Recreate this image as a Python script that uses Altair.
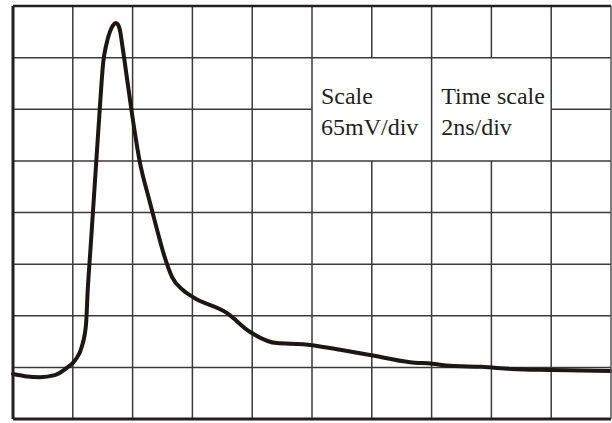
import altair as alt
import pandas as pd

# Signal trace (x in time divisions, y in voltage divisions)
trace_x = [0.00, 0.20, 0.45, 0.70, 0.90, 1.04, 1.15, 1.22, 1.25, 1.30, 1.35, 1.40, 1.45,
           1.51, 1.56, 1.62, 1.67, 1.72, 1.76, 1.79, 1.82, 1.86, 1.98, 2.12, 2.27, 2.41, 2.53,
           2.66, 2.84, 3.01, 3.58, 3.96, 4.41, 4.85, 5.47, 5.97, 6.64, 7.01, 7.31, 7.84,
           8.34, 9.01, 10.0]
trace_y = [0.87, 0.83, 0.81, 0.85, 0.99, 1.14, 1.40, 1.82, 2.50, 3.37, 4.24, 5.12, 5.99,
           6.92, 7.25, 7.50, 7.62, 7.67, 7.63, 7.52, 7.30, 6.98, 5.99, 4.98, 4.28, 3.66, 3.16,
           2.75, 2.50, 2.36, 2.05, 1.69, 1.47, 1.45, 1.34, 1.24, 1.10, 1.07, 1.03, 1.01,
           0.97, 0.95, 0.93]

# Grid segments (division units)
vgrid_x = [1, 2, 3, 4, 5, 6, 6, 7, 8, 8, 9]
vgrid_y1 = [0, 0, 0, 0, 0, 0, 7, 0, 0, 7, 0]
vgrid_y2 = [8, 8, 8, 8, 8, 5, 8, 8, 5, 8, 8]
hgrid_y = [1, 2, 3, 4, 5, 6, 6, 7]
hgrid_x1 = [0, 0, 0, 0, 0, 0, 9, 0]
hgrid_x2 = [10, 10, 10, 10, 10, 5, 10, 10]

# Annotation labels
label_text = ["Scale", "65mV/div", "Time scale", "2ns/div"]
label_x = [5.15, 5.15, 7.16, 7.16]
label_y = [6.10, 5.50, 6.10, 5.50]

xs = alt.Scale(domain=[0, 10], nice=False, zero=False)
ys = alt.Scale(domain=[0, 8], nice=False, zero=False)

trace = pd.DataFrame({"x": trace_x, "y": trace_y, "o": range(len(trace_x))})
vg = pd.DataFrame({"x": vgrid_x, "y": vgrid_y1, "y2": vgrid_y2})
hg = pd.DataFrame({"y": hgrid_y, "x": hgrid_x1, "x2": hgrid_x2})
labels = pd.DataFrame({"t": label_text, "x": label_x, "y": label_y})

grid_color = "#3a3a3a"

vlines = alt.Chart(vg).mark_rule(color=grid_color, strokeWidth=1.5).encode(
    x=alt.X("x:Q", scale=xs, axis=None),
    y=alt.Y("y:Q", scale=ys, axis=None),
    y2="y2:Q",
)
hlines = alt.Chart(hg).mark_rule(color=grid_color, strokeWidth=1.5).encode(
    y=alt.Y("y:Q", scale=ys, axis=None),
    x=alt.X("x:Q", scale=xs, axis=None),
    x2="x2:Q",
)

frame_left = alt.Chart(pd.DataFrame({"x": [0]})).mark_rule(color="#231f20", strokeWidth=3).encode(
    x=alt.X("x:Q", scale=xs, axis=None))
frame_bottom = alt.Chart(pd.DataFrame({"y": [0]})).mark_rule(color="#231f20", strokeWidth=3).encode(
    y=alt.Y("y:Q", scale=ys, axis=None))
frame_top = alt.Chart(pd.DataFrame({"y": [8]})).mark_rule(color="#231f20", strokeWidth=2.5).encode(
    y=alt.Y("y:Q", scale=ys, axis=None))
frame_right = alt.Chart(pd.DataFrame({"x": [10]})).mark_rule(color="#555555", strokeWidth=1.5).encode(
    x=alt.X("x:Q", scale=xs, axis=None))

line = alt.Chart(trace).mark_line(color="#1c1717", strokeWidth=4, interpolate="monotone",
                                  strokeCap="round", strokeJoin="round").encode(
    x=alt.X("x:Q", scale=xs, axis=None),
    y=alt.Y("y:Q", scale=ys, axis=None),
    order="o:Q",
)

text = alt.Chart(labels).mark_text(font="Liberation Serif", fontSize=24, align="left",
                                   baseline="alphabetic", color="#231f20").encode(
    x=alt.X("x:Q", scale=xs, axis=None),
    y=alt.Y("y:Q", scale=ys, axis=None),
    text="t:N",
)

chart = alt.layer(vlines, hlines, line, text, frame_left, frame_bottom, frame_top, frame_right).properties(
    width=598, height=413,
    padding={"left": 13, "right": 1, "top": 6, "bottom": 4},
    autosize=alt.AutoSizeParams(type="none"),
    background="white",
).configure_view(stroke=None)

chart.save("out.html", embed_options={"renderer": "svg", "actions": False})
